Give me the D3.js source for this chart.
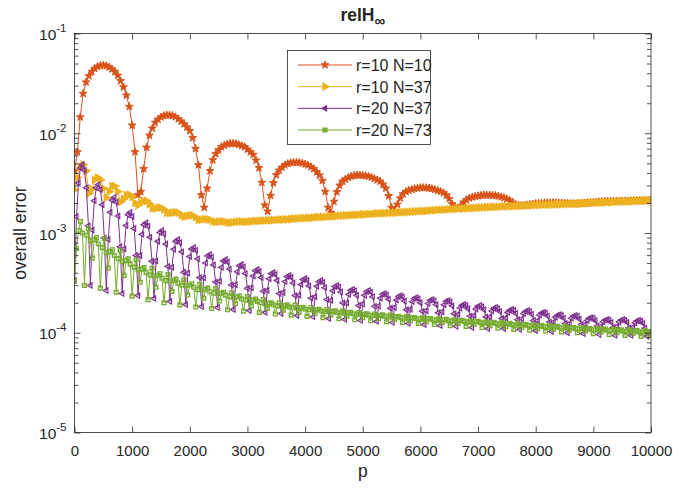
<!DOCTYPE html>
<html>
<head>
<meta charset="utf-8">
<script src="https://cdn.jsdelivr.net/npm/d3@7"></script>
<style>
  body { margin: 0; background: #fff; }
  text { font-family: "Liberation Sans", Arial, Helvetica, sans-serif; fill: #262626; }
</style>
</head>
<body>
<div id="chart"></div>
<script>
//// DATA (all error values are in units of 1e-3)
const unit = 1e-3;
const seriesNames = ['r=10 N=10', 'r=10 N=37', 'r=20 N=37', 'r=20 N=73'];
const xTicks = d3.range(0, 10001, 1000);
const yDecades = [1e-5, 1e-4, 1e-3, 1e-2, 1e-1];
const coarseStep = 50;        // p spacing of the r=10 runs
const fineStep = 10000 / 290; // p spacing of the r=20 runs

// r=10 N=10, p = 0, 50, ..., 10000
const redVals = [
  4.2, 6.5, 14.5, 25, 32.5, 37.5, 41.5, 44.5, 46.5, 47.8, 48, 47.5, 46, 44, 41.5, 38, 33.5, 29, 24, 18.5, 12, 6.5, 2.4,
  2.6, 4.4, 7.2, 9.5, 11.2, 12.8, 13.8, 14.5, 15, 15.2, 15.2, 15, 14.6, 13.9, 13.2, 12.4, 11.5, 10.6, 9.0, 7.0, 4.8, 2.4, 1.8,
  2.8, 4.2, 5.4, 6.2, 6.8, 7.3, 7.55, 7.8, 7.9, 7.9, 7.85, 7.7, 7.5, 7.3, 6.9, 6.5, 6.1, 5.35, 4.5, 3.2, 1.9,
  1.65, 2.37, 3.17, 3.82, 4.25, 4.55, 4.8, 4.95, 5.05, 5.1, 5.1, 5.07, 5.0, 4.9, 4.8, 4.6, 4.4, 4.1, 3.8, 3.35, 2.6, 1.8,
  1.6, 2.07, 2.58, 3.0, 3.3, 3.45, 3.6, 3.7, 3.77, 3.8, 3.8, 3.78, 3.75, 3.7, 3.6, 3.5, 3.4, 3.3, 3.07, 2.8, 2.35, 1.8,
  1.67, 1.93, 2.23, 2.46, 2.6, 2.67, 2.73, 2.78, 2.82, 2.85, 2.85, 2.84, 2.82, 2.78, 2.73, 2.66, 2.6, 2.52, 2.4, 2.2, 1.95, 1.8,
  1.76, 1.88, 2.03, 2.15, 2.24, 2.29, 2.33, 2.36, 2.38, 2.4, 2.4, 2.4, 2.39, 2.37, 2.34, 2.3, 2.26, 2.2, 2.12, 2.02, 1.92, 1.88,
  1.88, 1.89, 1.91, 1.93, 1.95, 1.97, 1.98, 1.99, 2.0, 2.01, 2.01, 2.01, 2.01, 2.0, 2.0, 1.99, 1.98, 1.97, 1.96, 1.96, 1.97, 1.98,
  1.99, 2.0, 2.01, 2.03, 2.04, 2.05, 2.06, 2.07, 2.08, 2.08, 2.09, 2.09, 2.09, 2.09, 2.09, 2.09, 2.1, 2.1, 2.1, 2.11, 2.11, 2.12, 2.12, 2.13
];

// r=10 N=37, p = 0, 50, ..., 10000
const yellowVals = [
  2.7, 3.6, 4.6, 4.85, 4.2, 2.5, 2.75, 3.4, 3.6, 3.4,
  2.8, 2.25, 2.6, 2.95, 2.95, 2.6, 2.05, 2.2, 2.4, 2.43,
  2.3, 2.0, 1.9, 2.0, 2.1, 2.1, 1.95, 1.78, 1.75, 1.8,
  1.8, 1.72, 1.6, 1.58, 1.6, 1.61, 1.6, 1.52, 1.46, 1.48,
  1.5, 1.5, 1.44, 1.35, 1.36, 1.38, 1.37, 1.36, 1.31, 1.29,
  1.3, 1.31, 1.3, 1.28, 1.27, 1.28, 1.29, 1.3, 1.3, 1.29,
  1.30, 1.31, 1.31, 1.32, 1.32, 1.33, 1.33, 1.34, 1.34, 1.35,
  1.35, 1.36, 1.36, 1.37, 1.37, 1.38, 1.39, 1.39, 1.40, 1.41,
  1.41, 1.42, 1.42, 1.43, 1.44, 1.44, 1.45, 1.45, 1.46, 1.47,
  1.47, 1.48, 1.49, 1.49, 1.50, 1.50, 1.51, 1.52, 1.52, 1.53,
  1.54, 1.54, 1.55, 1.55, 1.56, 1.57, 1.57, 1.58, 1.58, 1.59,
  1.59, 1.60, 1.60, 1.61, 1.62, 1.62, 1.63, 1.64, 1.64, 1.65,
  1.66, 1.66, 1.67, 1.68, 1.69, 1.69, 1.70, 1.71, 1.71, 1.72,
  1.73, 1.73, 1.74, 1.75, 1.76, 1.76, 1.77, 1.78, 1.78, 1.79,
  1.80, 1.80, 1.81, 1.82, 1.82, 1.83, 1.83, 1.84, 1.84, 1.85,
  1.85, 1.86, 1.86, 1.87, 1.87, 1.88, 1.88, 1.89, 1.89, 1.90,
  1.90, 1.91, 1.91, 1.92, 1.92, 1.93, 1.93, 1.94, 1.94, 1.95,
  1.95, 1.96, 1.96, 1.97, 1.97, 1.98, 1.98, 1.99, 1.99, 2.00,
  2.01, 2.01, 2.02, 2.03, 2.03, 2.04, 2.04, 2.05, 2.05, 2.06,
  2.07, 2.07, 2.08, 2.08, 2.09, 2.10, 2.10, 2.11, 2.11, 2.12,
  2.12
];

// r=20 N=37, p = i * 10000/290
const purpleVals = [
  0.334, 1.46, 3.17, 4.49, 4.86, 4.25, 2.84, 1.18,
  0.298, 1.07, 2.11, 2.85, 3.06, 2.72, 1.92, 0.89,
  0.265, 0.864, 1.61, 2.13, 2.27, 2.04, 1.48, 0.728,
  0.247, 0.692, 1.19, 1.52, 1.61, 1.46, 1.11, 0.596,
  0.236, 0.595, 0.970, 1.21, 1.27, 1.17, 0.908, 0.521,
  0.221, 0.524, 0.824, 1.01, 1.06, 0.981, 0.775, 0.462,
  0.206, 0.453, 0.686, 0.824, 0.861, 0.801, 0.647, 0.404,
  0.192, 0.396, 0.580, 0.689, 0.716, 0.670, 0.551, 0.357,
  0.183, 0.355, 0.501, 0.587, 0.609, 0.573, 0.479, 0.322,
  0.179, 0.329, 0.454, 0.524, 0.542, 0.512, 0.435, 0.301,
  0.171, 0.303, 0.409, 0.468, 0.483, 0.458, 0.393, 0.279,
  0.167, 0.282, 0.371, 0.419, 0.431, 0.411, 0.357, 0.261,
  0.160, 0.266, 0.347, 0.391, 0.402, 0.384, 0.334, 0.247,
  0.156, 0.253, 0.326, 0.365, 0.375, 0.359, 0.315, 0.236,
  0.149, 0.238, 0.305, 0.341, 0.350, 0.335, 0.295, 0.222,
  0.145, 0.229, 0.292, 0.325, 0.334, 0.320, 0.283, 0.215,
  0.139, 0.211, 0.264, 0.291, 0.298, 0.286, 0.256, 0.199,
  0.136, 0.199, 0.243, 0.267, 0.272, 0.263, 0.237, 0.188,
  0.133, 0.194, 0.237, 0.259, 0.265, 0.255, 0.230, 0.184,
  0.130, 0.185, 0.222, 0.243, 0.247, 0.239, 0.217, 0.176,
  0.127, 0.179, 0.213, 0.231, 0.236, 0.229, 0.208, 0.170,
  0.124, 0.172, 0.205, 0.221, 0.225, 0.218, 0.200, 0.164,
  0.121, 0.166, 0.196, 0.212, 0.215, 0.209, 0.191, 0.159,
  0.118, 0.162, 0.191, 0.207, 0.210, 0.204, 0.186, 0.155,
  0.116, 0.153, 0.177, 0.189, 0.192, 0.187, 0.174, 0.147,
  0.113, 0.149, 0.173, 0.184, 0.188, 0.182, 0.170, 0.144,
  0.110, 0.144, 0.165, 0.176, 0.179, 0.174, 0.163, 0.139,
  0.110, 0.141, 0.160, 0.168, 0.171, 0.167, 0.156, 0.135,
  0.108, 0.138, 0.156, 0.164, 0.167, 0.163, 0.153, 0.133,
  0.105, 0.132, 0.150, 0.158, 0.160, 0.157, 0.147, 0.128,
  0.103, 0.128, 0.143, 0.150, 0.152, 0.149, 0.140, 0.124,
  0.100, 0.124, 0.140, 0.147, 0.149, 0.146, 0.137, 0.121,
  0.098, 0.121, 0.133, 0.140, 0.142, 0.139, 0.132, 0.117,
  0.096, 0.116, 0.129, 0.134, 0.136, 0.134, 0.127, 0.113,
  0.094, 0.116, 0.128, 0.134, 0.136, 0.133, 0.127, 0.112,
  0.094, 0.114, 0.126, 0.132, 0.133, 0.131, 0.124, 0.111,
  0.092, 0.100, 0.104
];

// r=20 N=73, p = i * 10000/290
const greenVals = [
  0.33, 0.70, 1.06, 1.30, 1.00, 0.298, 0.95, 1.10,
  0.838, 0.559, 0.857, 0.90, 0.776, 0.28, 0.714, 0.881,
  0.638, 0.446, 0.650, 0.68, 0.595, 0.255, 0.553, 0.667,
  0.518, 0.376, 0.528, 0.55, 0.487, 0.233, 0.455, 0.540,
  0.427, 0.321, 0.434, 0.45, 0.403, 0.215, 0.380, 0.443,
  0.371, 0.286, 0.377, 0.39, 0.352, 0.20, 0.333, 0.384,
  0.330, 0.260, 0.334, 0.345, 0.314, 0.19, 0.299, 0.340,
  0.297, 0.239, 0.301, 0.31, 0.284, 0.181, 0.271, 0.306,
  0.270, 0.222, 0.273, 0.28, 0.259, 0.175, 0.249, 0.277,
  0.247, 0.208, 0.249, 0.255, 0.238, 0.17, 0.230, 0.252,
  0.226, 0.196, 0.228, 0.233, 0.219, 0.165, 0.213, 0.231,
  0.211, 0.186, 0.213, 0.217, 0.206, 0.16, 0.200, 0.215,
  0.195, 0.175, 0.197, 0.20, 0.191, 0.154, 0.186, 0.199,
  0.186, 0.168, 0.187, 0.19, 0.182, 0.15, 0.178, 0.189,
  0.177, 0.161, 0.178, 0.18, 0.173, 0.146, 0.170, 0.179,
  0.169, 0.156, 0.170, 0.172, 0.166, 0.142, 0.163, 0.171,
  0.163, 0.151, 0.164, 0.166, 0.160, 0.138, 0.158, 0.165,
  0.158, 0.146, 0.158, 0.16, 0.155, 0.135, 0.153, 0.159,
  0.153, 0.142, 0.153, 0.155, 0.150, 0.132, 0.148, 0.154,
  0.149, 0.139, 0.149, 0.151, 0.147, 0.129, 0.144, 0.150,
  0.144, 0.136, 0.145, 0.146, 0.142, 0.127, 0.140, 0.145,
  0.140, 0.132, 0.141, 0.142, 0.138, 0.124, 0.137, 0.141,
  0.137, 0.129, 0.138, 0.139, 0.135, 0.121, 0.134, 0.138,
  0.134, 0.126, 0.135, 0.136, 0.132, 0.118, 0.131, 0.135,
  0.131, 0.124, 0.132, 0.133, 0.130, 0.116, 0.128, 0.132,
  0.128, 0.121, 0.129, 0.13, 0.127, 0.113, 0.125, 0.129,
  0.125, 0.118, 0.126, 0.127, 0.124, 0.111, 0.122, 0.127,
  0.122, 0.115, 0.123, 0.124, 0.121, 0.108, 0.119, 0.124,
  0.120, 0.113, 0.120, 0.121, 0.118, 0.106, 0.117, 0.121,
  0.117, 0.110, 0.117, 0.118, 0.115, 0.104, 0.114, 0.118,
  0.115, 0.108, 0.115, 0.116, 0.113, 0.102, 0.112, 0.116,
  0.112, 0.106, 0.112, 0.113, 0.110, 0.100, 0.109, 0.113,
  0.110, 0.104, 0.110, 0.111, 0.108, 0.098, 0.107, 0.111,
  0.108, 0.102, 0.108, 0.109, 0.106, 0.096, 0.105, 0.109,
  0.106, 0.100, 0.106, 0.107, 0.104, 0.094, 0.103, 0.107,
  0.104, 0.098, 0.104, 0.105, 0.102, 0.092, 0.101, 0.105,
  0.103, 0.095, 0.100
];

//// SETUP
document.addEventListener('DOMContentLoaded', function () {
  drawChart();
});

function drawChart() {
  const W = 673, H = 493;
  const plot = { left: 74.5, right: 651, top: 33.5, bottom: 432.5 };
  const axisColor = '#262626';

  const svg = d3.select('#chart').append('svg')
    .attr('width', W).attr('height', H);

  // scales
  const x = d3.scaleLinear().domain([0, 10000]).range([plot.left, plot.right]);
  const y = d3.scaleLog().domain([1e-5, 1e-1]).range([plot.bottom, plot.top]);

  // series setup: MATLAB default colour order
  const series = [
    { name: seriesNames[0], vals: redVals, step: coarseStep, color: '#D95319', sym: d3.symbolStar, rot: 0, size: 19, fill: true, sw: 1 },
    { name: seriesNames[1], vals: yellowVals, step: coarseStep, color: '#EDB120', sym: d3.symbolTriangle, rot: 90, size: 20, fill: true, sw: 1.4 },
    { name: seriesNames[2], vals: purpleVals, step: fineStep, color: '#7E2F8E', sym: d3.symbolTriangle, rot: -90, size: 12, fill: false, sw: 1.2 },
    { name: seriesNames[3], vals: greenVals, step: fineStep, color: '#77AC30', sym: d3.symbolSquare, rot: 0, size: 14, fill: false, sw: 1.4 }
  ];
  series.forEach(s => {
    s.pts = s.vals.map((v, i) => ({ p: i * s.step, v: v * unit }));
  });

  // clip
  svg.append('clipPath').attr('id', 'plotClip')
    .append('rect')
    .attr('x', plot.left).attr('y', plot.top)
    .attr('width', plot.right - plot.left).attr('height', plot.bottom - plot.top);

  const dataG = svg.append('g').attr('clip-path', 'url(#plotClip)');
  const line = d3.line().x(d => x(d.p)).y(d => y(d.v));

  series.forEach(s => {
    const g = dataG.append('g');
    g.append('path').datum(s.pts)
      .attr('d', line)
      .attr('fill', 'none')
      .attr('stroke', s.color)
      .attr('stroke-width', 1);
    const sym = d3.symbol().type(s.sym).size(s.size);
    g.selectAll('.mk').data(s.pts).join('path')
      .attr('class', 'mk')
      .attr('transform', d => `translate(${x(d.p)},${y(d.v)}) rotate(${s.rot})`)
      .attr('d', sym)
      .attr('fill', s.fill ? s.color : 'none')
      .attr('stroke', s.color)
      .attr('stroke-width', s.sw);
  });

  // AXES
  const minorTicks = [];
  yDecades.slice(0, -1).forEach(d => {
    for (let k = 2; k <= 9; k++) minorTicks.push(d * k);
  });

  function styleAxis(g) {
    g.select('.domain').remove();
    g.selectAll('.tick line').attr('stroke', axisColor).attr('stroke-width', 0.8);
  }

  // bottom
  svg.append('g')
    .attr('transform', `translate(0,${plot.bottom})`)
    .call(d3.axisBottom(x).tickValues(xTicks).tickSizeInner(-6).tickSizeOuter(0).tickPadding(13).tickFormat(d3.format('d')))
    .call(styleAxis)
    .selectAll('text')
      .attr('font-size', 15)
      .attr('fill', axisColor);
  // top
  svg.append('g')
    .attr('transform', `translate(0,${plot.top})`)
    .call(d3.axisTop(x).tickValues(xTicks).tickSizeInner(-6).tickSizeOuter(0).tickFormat(''))
    .call(styleAxis);
  // left major
  const leftAxis = svg.append('g')
    .attr('transform', `translate(${plot.left},0)`)
    .call(d3.axisLeft(y).tickValues(yDecades).tickSizeInner(-6).tickSizeOuter(0).tickFormat(''))
    .call(styleAxis);
  leftAxis.selectAll('.tick').append('text')
    .attr('x', -8).attr('y', 6).attr('text-anchor', 'end').attr('font-size', 15.5)
    .attr('fill', axisColor)
    .each(function (d) {
      const t = d3.select(this);
      t.append('tspan').text('10');
      t.append('tspan').attr('dy', -8).attr('font-size', 11.5).text(Math.round(Math.log10(d)));
    });
  // left minor
  svg.append('g')
    .attr('transform', `translate(${plot.left},0)`)
    .call(d3.axisLeft(y).tickValues(minorTicks).tickSizeInner(-4).tickSizeOuter(0).tickFormat(''))
    .call(styleAxis);
  // right major + minor
  svg.append('g')
    .attr('transform', `translate(${plot.right},0)`)
    .call(d3.axisRight(y).tickValues(yDecades).tickSizeInner(-6).tickSizeOuter(0).tickFormat(''))
    .call(styleAxis);
  svg.append('g')
    .attr('transform', `translate(${plot.right},0)`)
    .call(d3.axisRight(y).tickValues(minorTicks).tickSizeInner(-4).tickSizeOuter(0).tickFormat(''))
    .call(styleAxis);

  // box
  svg.append('rect')
    .attr('x', plot.left).attr('y', plot.top)
    .attr('width', plot.right - plot.left).attr('height', plot.bottom - plot.top)
    .attr('fill', 'none').attr('stroke', axisColor).attr('stroke-width', 0.8);

  // axis labels
  svg.append('text')
    .attr('x', (plot.left + plot.right) / 2).attr('y', 477)
    .attr('text-anchor', 'middle').attr('font-size', 17.5)
    .text('p');
  svg.append('text')
    .attr('transform', `translate(26,${(plot.top + plot.bottom) / 2}) rotate(-90)`)
    .attr('text-anchor', 'middle').attr('font-size', 17.5)
    .text('overall error');

  // title
  const title = svg.append('text')
    .attr('x', (plot.left + plot.right) / 2).attr('y', 21)
    .attr('text-anchor', 'middle').attr('font-size', 17.5).attr('font-weight', 'bold')
    .attr('fill', '#000');
  title.append('tspan').text('relH');
  title.append('tspan').attr('dy', 5).attr('font-size', 15).text('\u221E');

  // LEGEND
  const leg = { x: 287.5, y: 50.5, w: 143, h: 94 };
  const legG = svg.append('g');
  legG.append('rect')
    .attr('x', leg.x).attr('y', leg.y).attr('width', leg.w).attr('height', leg.h)
    .attr('fill', '#fff').attr('stroke', axisColor).attr('stroke-width', 0.8);
  const rowY = d3.scalePoint().domain(seriesNames).range([leg.y + 14.5, leg.y + 79.5]);
  series.forEach(s => {
    const ry = rowY(s.name);
    legG.append('line')
      .attr('x1', 298).attr('x2', 352).attr('y1', ry).attr('y2', ry)
      .attr('stroke', s.color).attr('stroke-width', 1);
    legG.append('path')
      .attr('transform', `translate(325,${ry}) rotate(${s.rot})`)
      .attr('d', d3.symbol().type(s.sym).size(s.size)())
      .attr('fill', s.color)
      .attr('stroke', s.color).attr('stroke-width', s.sw);
    legG.append('text')
      .attr('x', 356).attr('y', ry + 6)
      .attr('font-size', 16).attr('fill', '#000')
      .text(s.name);
  });
}
</script>
</body>
</html>
